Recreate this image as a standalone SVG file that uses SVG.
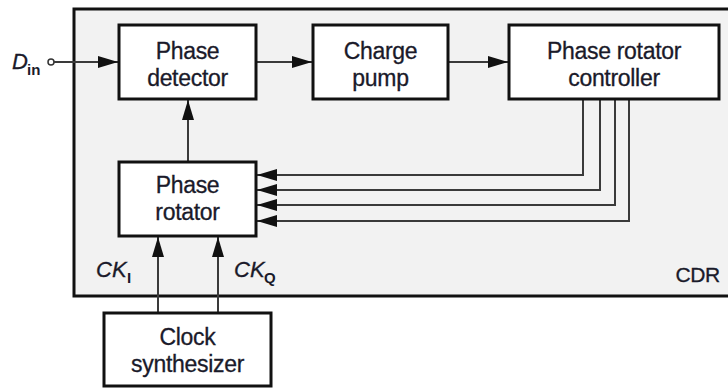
<svg xmlns="http://www.w3.org/2000/svg" width="728" height="390" viewBox="0 0 728 390">
<defs>
<style>
.box{fill:#fff;stroke:#111;stroke-width:3}
.t{font-family:"Liberation Sans",Arial,sans-serif;font-size:23px;letter-spacing:-0.3px;fill:#1a1a2a;stroke:#1a1a2a;stroke-width:0.3;text-anchor:middle}
.it{font-family:"Liberation Sans",Arial,sans-serif;font-size:22px;font-style:italic;fill:#1a1a2a;stroke:#1a1a2a;stroke-width:0.3}
.sub{font-family:"Liberation Sans",Arial,sans-serif;font-size:15px;font-weight:bold;fill:#1a1a2a}
.c{fill:none;stroke:#3a3a3a;stroke-width:2}
</style>
<marker id="ah" markerUnits="userSpaceOnUse" markerWidth="21" markerHeight="12" refX="20" refY="6" orient="auto">
<path d="M0,0 L20,6 L0,12 z" fill="#111"/>
</marker>
</defs>
<rect width="728" height="390" fill="#fff"/>
<g id="cdr">
<rect x="74" y="9" width="680" height="287" fill="#f2f2f2" stroke="#111" stroke-width="3"/>
<text class="t" x="720" y="282" style="text-anchor:end;font-size:21px">CDR</text>
</g>
<g id="connectors">
<circle cx="51" cy="62" r="3" fill="#fff" stroke="#333" stroke-width="1.5"/>
<path class="c" d="M54,62 H118" marker-end="url(#ah)"/>
<path class="c" d="M257,62 H312" marker-end="url(#ah)"/>
<path class="c" d="M448,62 H508" marker-end="url(#ah)"/>
<path class="c" d="M188,161 V100" marker-end="url(#ah)"/>
<path class="c" d="M583,100 V175 H257" marker-end="url(#ah)"/>
<path class="c" d="M600,100 V190 H257" marker-end="url(#ah)"/>
<path class="c" d="M615,100 V205 H257" marker-end="url(#ah)"/>
<path class="c" d="M629,100 V221 H257" marker-end="url(#ah)"/>
<path class="c" d="M158,312 V237" marker-end="url(#ah)"/>
<path class="c" d="M218,312 V237" marker-end="url(#ah)"/>
</g>
<g id="din">
<text class="it" x="12" y="69">D</text><text class="sub" x="27" y="75">in</text>
</g>
<g id="phase-detector">
<rect class="box" x="119" y="25" width="137" height="74"/>
<text class="t" x="187.5" y="59">Phase</text>
<text class="t" x="187.5" y="86">detector</text>
</g>
<g id="charge-pump">
<rect class="box" x="313" y="25" width="135" height="74"/>
<text class="t" x="380.5" y="59">Charge</text>
<text class="t" x="380.5" y="86">pump</text>
</g>
<g id="phase-rotator-controller">
<rect class="box" x="509" y="25" width="210" height="74"/>
<text class="t" x="614" y="59">Phase rotator</text>
<text class="t" x="614" y="86">controller</text>
</g>
<g id="phase-rotator">
<rect class="box" x="119" y="162" width="137" height="74"/>
<text class="t" x="187.5" y="193">Phase</text>
<text class="t" x="187.5" y="220">rotator</text>
</g>
<g id="clock-synthesizer">
<rect class="box" x="104" y="313" width="167" height="73"/>
<text class="t" x="187.5" y="345">Clock</text>
<text class="t" x="187.5" y="372">synthesizer</text>
</g>
<g id="ck-labels">
<text class="it" x="96" y="277">CK</text><text class="sub" x="127" y="283">I</text>
<text class="it" x="234" y="277">CK</text><text class="sub" x="264" y="283">Q</text>
</g>
</svg>
